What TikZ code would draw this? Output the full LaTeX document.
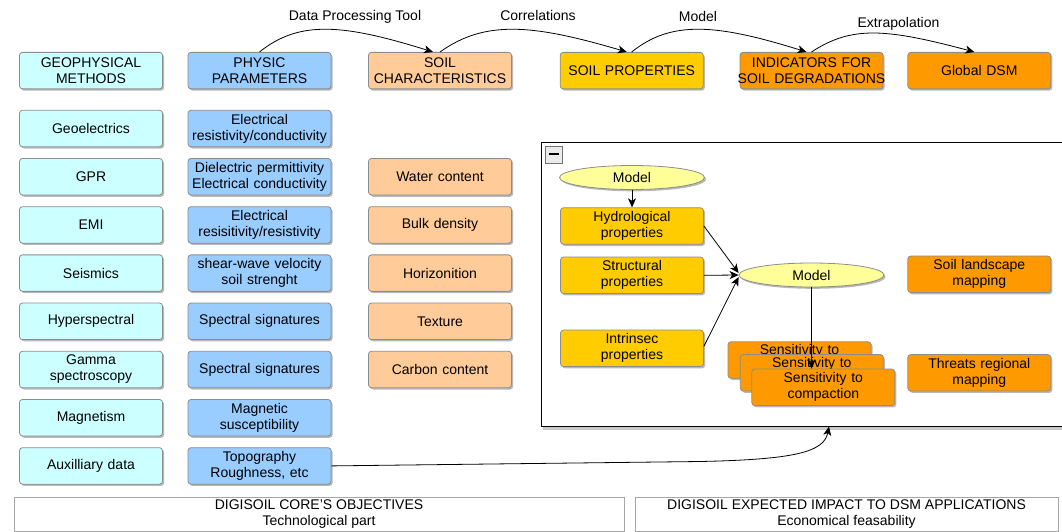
\documentclass[tikz,border=0pt]{standalone}
\usepackage{fontspec}
\setmainfont{Liberation Sans}
\usetikzlibrary{arrows.meta,shapes.geometric,shadows}
\definecolor{cyanbox}{HTML}{CCFFFF}
\definecolor{bluebox}{HTML}{99CCFF}
\definecolor{peachbox}{HTML}{FFCC99}
\definecolor{goldbox}{HTML}{FFCC00}
\definecolor{orangebox}{HTML}{FF9900}
\definecolor{modelfill}{HTML}{FFFF99}
\definecolor{boxline}{HTML}{8C8C8C}
\begin{document}
\begin{tikzpicture}[x=1pt,y=-1pt,
  font=\fontsize{14}{16}\selectfont,
  shad/.style={drop shadow={shadow xshift=1.6pt,shadow yshift=-1.8pt,fill=black!35,opacity=0.8}},
  box/.style={draw=boxline,line width=0.8pt,rounded corners=3pt,minimum width=143pt,
    minimum height=36.5pt,text width=141pt,inner xsep=1pt,inner ysep=1pt,align=center,shad},
  geo/.style={box,fill=cyanbox},
  phy/.style={box,fill=bluebox},
  sch/.style={box,fill=peachbox},
  spr/.style={box,fill=goldbox},
  ind/.style={box,fill=orangebox},
  modelnode/.style={ellipse,draw=boxline,line width=0.8pt,fill=modelfill,minimum width=145pt,
    minimum height=24pt,inner sep=0pt,shad},
  conn/.style={draw=black,line width=0.8pt,-{Stealth[length=9pt,width=8pt,inset=2.5pt]}},
  lbl/.style={inner sep=0pt},
  footbox/.style={draw=black!35,line width=0.8pt,minimum height=34pt,inner sep=0pt,align=center}]
\useasboundingbox (0,0) rectangle (1062,531);
% header row
\node[geo] (geoh) at (91,70.6) {GEOPHYSICAL\\METHODS};
\node[phy] (phys) at (259.5,70.6) {PHYSIC\\PARAMETERS};
\node[sch] (soilc) at (440,70.6) {SOIL\\CHARACTERISTICS};
\node[spr] (soilp) at (631.7,70.6) {SOIL PROPERTIES};
\node[ind] (indic) at (811.5,70.6) {INDICATORS FOR\\\makebox[0pt]{SOIL DEGRADATIONS}};
\node[ind] (gdsm) at (979.3,70.6) {Global DSM};
% header connectors
\draw[conn] (phys.north) .. controls +(40,-32) and +(-90,-28) .. ([xshift=-7pt]soilc.north);
\draw[conn] (soilc.north) .. controls +(45,-32) and +(-95,-28) .. ([xshift=-5pt]soilp.north);
\draw[conn] (soilp.north) .. controls +(40,-32) and +(-90,-28) .. ([xshift=-5pt]indic.north);
\draw[conn] (indic.north) .. controls +(40,-26) and +(-90,-24) .. ([xshift=-5pt]gdsm.north);
\node[lbl] (l1) at (355,16.5) {Data Processing Tool};
\node[lbl] (l2) at (538,15.5) {Correlations};
\node[lbl] (l3) at (698,16.5) {Model};
\node[lbl] (l4) at (898.5,23.5) {Extrapolation};
% column 1
\node[geo] (g1) at (91,128.5) {Geoelectrics};
\node[geo] (g2) at (91,176.7) {GPR};
\node[geo] (g3) at (91,224.9) {EMI};
\node[geo] (g4) at (91,273.1) {Seismics};
\node[geo] (g5) at (91,321.3) {Hyperspectral};
\node[geo] (g6) at (91,369.5) {Gamma\\spectroscopy};
\node[geo] (g7) at (91,417.7) {Magnetism};
\node[geo] (g8) at (91,465.9) {Auxilliary data};
% column 2
\node[phy] (p1) at (259.5,128.5) {Electrical\\resistivity/conductivity};
\node[phy] (p2) at (259.5,176.7) {Dielectric permittivity\\Electrical conductivity};
\node[phy] (p3) at (259.5,224.9) {Electrical\\resisitivity/resistivity};
\node[phy] (p4) at (259.5,273.1) {shear-wave velocity\\soil strenght};
\node[phy] (p5) at (259.5,321.3) {Spectral signatures};
\node[phy] (p6) at (259.5,369.5) {Spectral signatures};
\node[phy] (p7) at (259.5,417.7) {Magnetic\\susceptibility};
\node[phy] (topo) at (259.5,465.9) {Topography\\Roughness, etc};
% column 3
\node[sch] (s2) at (440,176.7) {Water content};
\node[sch] (s3) at (440,224.9) {Bulk density};
\node[sch] (s4) at (440,273.1) {Horizonition};
\node[sch] (s5) at (440,321.3) {Texture};
\node[sch] (s6) at (440,369.5) {Carbon content};
% frame
\fill[black!22] (543,427) rectangle (1062,429.5);
\draw[line width=0.9pt] (1063,142) -- (541,142) -- (541,426) -- (1063,426);
\node[draw=black!55,fill=black!8,minimum size=17pt,inner sep=0pt,anchor=north west] (toggle) at (545,145.5) {};
\draw[line width=1.6pt] ([xshift=-5pt]toggle.center) -- ([xshift=5pt]toggle.center);
% frame content
\node[modelnode] (m1) at (632,177.5) {Model};
\node[spr] (hyd) at (632,226) {Hydrological\\properties};
\node[spr] (str) at (632,275.3) {Structural\\properties};
\node[spr] (intr) at (632,348.3) {Intrinsec\\properties};
\node[modelnode] (m2) at (811.5,275) {Model};
\node[ind] (land) at (979.3,274.3) {Soil landscape\\mapping};
\node[ind] (threat) at (979.3,372.8) {Threats regional\\mapping};
\node[ind] (sena) at (799.5,360) {Sensitivity to\\\strut};
\node[ind] (senb) at (811.8,372.8) {Sensitivity to\\\strut};
\node[ind] (senc) at (823.3,387.3) {Sensitivity to\\compaction};
\draw[conn] (m1.south) -- (hyd.north);
\draw[conn] (hyd.east) -- ([yshift=2pt]m2.west);
\draw[conn] (str.east) -- (m2.west);
\draw[conn] ([yshift=2pt]intr.east) -- ([yshift=-2pt]m2.west);
\draw[conn] (m2.south) -- (m2.south |- senc.north);
% topography connector
\coordinate (bend) at (700,461.5);
\coordinate (frb) at (829,426.5);
\draw[conn] (topo.east) -- (bend) .. controls (795,459.5) and (824,452) .. (frb);
% footer
\node[footbox,minimum width=610pt] (core) at (319,514.5) {DIGISOIL CORE'S OBJECTIVES\\Technological part};
\node[footbox,minimum width=423pt] (impact) at (846.5,514.5) {DIGISOIL EXPECTED IMPACT TO DSM APPLICATIONS\\Economical feasability};
\end{tikzpicture}
\end{document}
